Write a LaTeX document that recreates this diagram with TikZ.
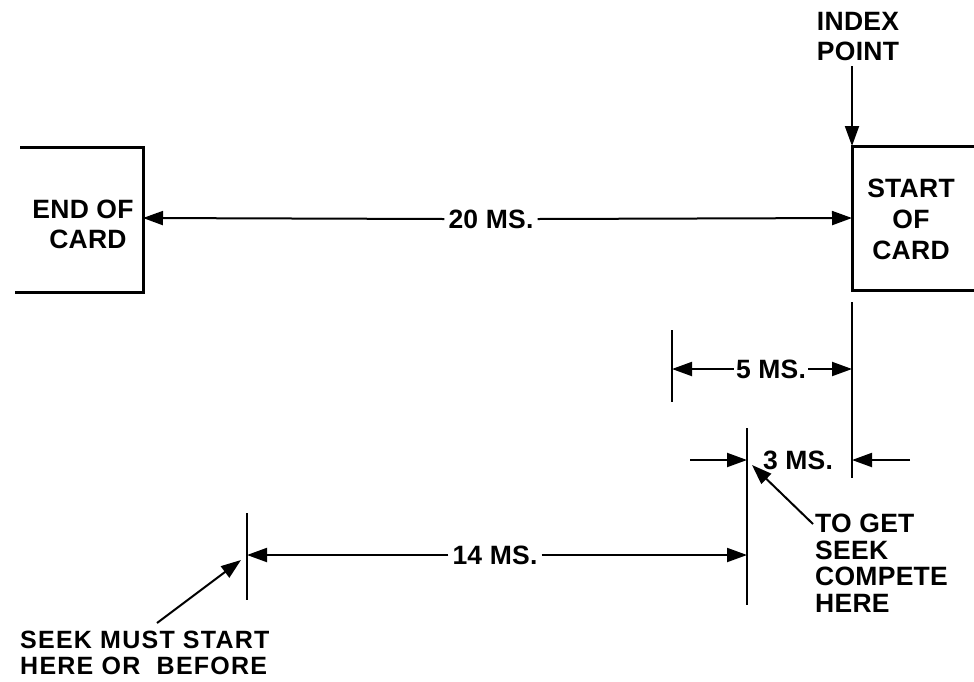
\documentclass[tikz,border=0pt]{standalone}
\usepackage{fontspec}
\setmainfont[LetterSpace=1,UprightFont={* Bold}]{Liberation Sans}
\newfontfamily\widefont[LetterSpace=5,UprightFont={* Bold}]{Liberation Sans}
\usetikzlibrary{arrows.meta}
\begin{document}
\begin{tikzpicture}[x=1pt,y=-1pt,
  lbl/.style={inner sep=0pt, align=center},
  dimlbl/.style={inner ysep=0pt, inner xsep=4pt},
  boxline/.style={line width=3pt},
  dimarrow/.style={line width=2pt, -{Triangle[length=20pt,width=14pt]}},
  tickline/.style={line width=2.2pt}]
\useasboundingbox (0,0) rectangle (974,681);
\tikzset{every node/.append style={font=\fontsize{26.5}{28}\selectfont}}

% left box: END OF CARD
\draw[boxline] (20,147) -- (143,147) -- (143,292) -- (15,292);
\node[lbl, font=\fontsize{26.5}{30}\selectfont] (eoc) at (83,224) {END OF\\\hspace*{10pt}CARD};
\coordinate (eocR) at (143,218);

% right box: START OF CARD
\draw[boxline] (974,146) -- (852,146) -- (852,290) -- (974,290);
\node[lbl, font=\fontsize{26.5}{31}\selectfont] (soc) at (911,219) {START\\OF\\CARD};
\coordinate (socL) at (852,218);
\coordinate (ip) at (852,146);

% index point
\node[lbl, font=\fontsize{26.5}{30}\selectfont] (idx) at (858,37) {INDEX\\POINT};
\draw[dimarrow] (idx.south -| ip) ++(0,5) -- (ip);

% 20 MS
\node[lbl, dimlbl] (t20) at (491,219) {20 MS.};
\draw[dimarrow] (t20.west) -- (eocR);
\draw[dimarrow] (t20.east) -- (socL);

% extension lines
\coordinate (v1a) at (852,302); \coordinate (v1b) at (852,478);
\coordinate (v2a) at (672,330); \coordinate (v2b) at (672,402);
\coordinate (v3a) at (747,428); \coordinate (v3b) at (747,605);
\coordinate (v4a) at (247,513); \coordinate (v4b) at (247,600);
\draw[tickline] (v1a) -- (v1b);
\draw[tickline] (v2a) -- (v2b);
\draw[tickline] (v3a) -- (v3b);
\draw[tickline] (v4a) -- (v4b);

% 5 MS
\node[lbl, dimlbl, inner xsep=2pt] (t5) at (771,369) {5 MS.};
\draw[dimarrow] (t5.west) -- (t5.west -| v2a);
\draw[dimarrow] (t5.east) -- (t5.east -| v1a);

% 3 MS
\node[lbl] (t3) at (798,460) {3 MS.};
\coordinate (a3l) at (690,460);
\coordinate (a3r) at (910,460);
\draw[dimarrow] (a3l) -- (a3l -| v3a);
\draw[dimarrow] (a3r) -- (a3r -| v1a);

% 14 MS
\node[lbl, dimlbl] (t14) at (495,555) {14 MS.};
\draw[dimarrow] (t14.west) -- (t14.west -| v4a);
\draw[dimarrow] (t14.east) -- (t14.east -| v3a);

% to get seek complete here
\node[lbl, align=left, anchor=north west, font=\fontsize{26.5}{26.5}\selectfont] (tg) at (815,514) {TO GET\\SEEK\\COMPETE\\HERE};
\coordinate (tgp) at (752,465);
\draw[dimarrow] (tg.north west) ++(-2,10) -- (tgp);

% seek must start here or before
\node[lbl, align=left, anchor=north west, font=\widefont\fontsize{25}{26}\selectfont] (sm) at (20,631) {SEEK MUST START\\HERE OR\ \ BEFORE};
\coordinate (smp) at (241,560);
\draw[dimarrow] (157,623) -- (smp);
\end{tikzpicture}
\end{document}
